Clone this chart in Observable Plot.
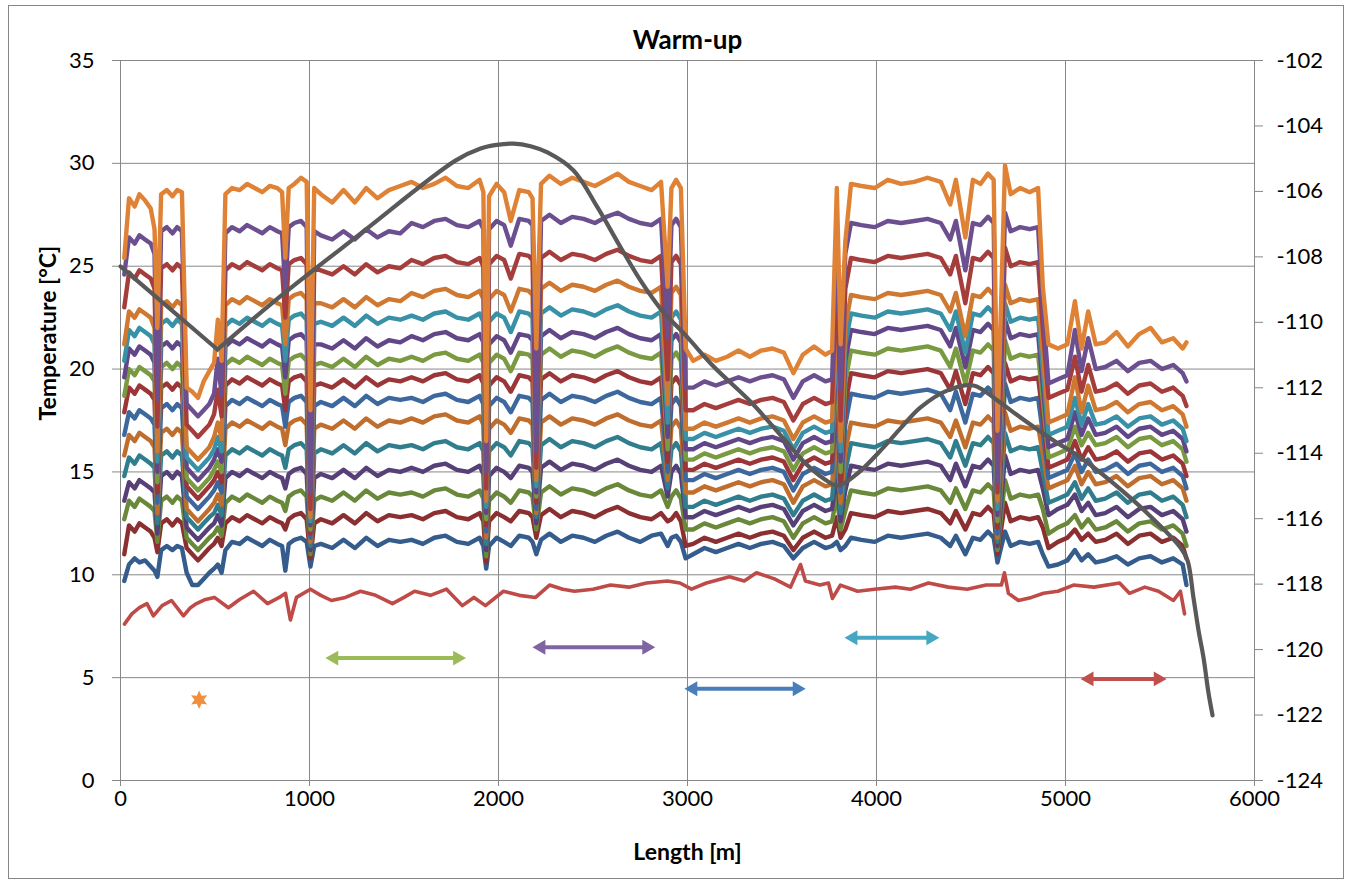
<!DOCTYPE html>
<html><head><meta charset="utf-8">
<script src="https://cdn.jsdelivr.net/npm/d3@7"></script>
<script src="https://cdn.jsdelivr.net/npm/@observablehq/plot@0.6"></script>
<style>body{margin:0;background:#fff;overflow:hidden}</style>
</head><body><div id="chart"></div>
<script>
// ---- data ----
const lengthM = [20,45,75,100,130,160,180,195,215,245,275,300,325,350,380,410,440,470,495,515,535,555,590,630,670,710,750,790,830,855,872,890,920,955,985,1005,1025,1060,1120,1180,1240,1300,1360,1420,1480,1540,1600,1660,1720,1780,1840,1900,1920,1935,1950,1990,2030,2065,2110,2160,2180,2200,2225,2270,2330,2390,2450,2510,2570,2630,2690,2750,2810,2860,2895,2915,2940,2965,2990,3030,3090,3150,3210,3270,3330,3390,3450,3510,3560,3610,3670,3730,3765,3790,3810,3835,3865,3920,3990,4060,4130,4200,4270,4340,4390,4420,4470,4510,4550,4590,4620,4640,4680,4710,4760,4810,4855,4880,4910,4960,5010,5050,5085,5120,5160,5210,5270,5330,5390,5450,5510,5570,5620,5640];

const s00 = [25.4,28.3,27.9,28.5,28.2,27.8,26.8,22.0,28.5,28.7, 28.4,28.7,28.6,19.1,18.9,18.6,19.4,19.9,20.3,22.4, 20.4,28.5,28.8,28.7,29.0,28.8,28.6,28.9,28.8,28.6, 25.4,28.8,29.0,29.3,29.1,18.0,28.8,28.5,28.1,28.7, 28.1,28.8,28.3,28.7,28.9,29.1,28.8,29.0,29.3,28.9, 28.8,29.2,28.6,16.5,28.4,29.0,28.6,27.2,28.7,28.6, 28.3,21.0,29.0,29.4,29.0,29.3,29.1,28.9,29.2,29.5, 29.1,28.9,28.7,29.1,24.0,28.8,29.2,28.8,21.0,20.4, 20.7,20.4,20.6,20.9,20.6,20.9,21.0,20.8,19.8,20.7, 21.1,20.7,20.9,28.8,21.2,26.2,29.0,28.9,28.8,29.2, 29.0,29.1,29.3,29.1,28.0,29.2,26.4,29.2,29.0,29.5, 29.2,17.0,29.9,28.5,28.8,28.6,28.8,24.0,21.2,21.0, 21.2,23.3,21.0,22.8,21.2,21.3,21.8,21.1,21.7,22.0, 21.3,21.5,21.0,21.3];
const s01 = [24.6,26.4,26.1,26.5,26.3,26.1,25.6,18.5,26.7,26.9, 26.6,26.9,26.7,18.3,18.0,17.7,18.0,18.3,18.8,20.5, 18.7,26.6,26.9,26.7,27.0,26.8,26.6,26.9,26.7,26.6, 23.8,26.9,27.1,27.2,26.9,14.0,26.7,26.5,26.3,26.7, 26.3,26.8,26.4,26.7,26.6,27.1,26.9,27.2,27.3,27.0, 26.9,27.2,26.8,15.0,26.8,27.2,27.0,26.0,27.3,27.2, 27.0,16.0,27.2,27.5,27.1,27.4,27.3,27.1,27.4,27.6, 27.3,27.1,27.0,27.3,21.5,27.0,27.3,26.9,19.1,19.1, 19.4,19.2,19.4,19.6,19.4,19.6,19.7,19.5,18.6,19.4, 19.7,19.4,19.5,26.9,19.0,25.6,27.1,27.0,26.9,27.2, 27.1,27.2,27.3,27.1,26.3,27.2,24.8,27.1,27.0,27.4, 27.1,14.5,27.6,26.7,26.9,26.8,26.9,23.0,19.3,19.5, 19.7,21.9,19.9,21.5,20.0,20.1,20.4,19.9,20.3,20.4, 20.0,20.2,19.8,19.4];
const s02 = [23.0,24.7,24.4,24.8,24.6,24.4,23.9,17.2,24.9,25.1, 24.8,25.1,24.9,17.3,17.0,16.7,17.0,17.3,17.8,19.0, 17.7,24.8,25.1,24.9,25.2,25.0,24.8,25.1,24.9,24.8, 22.5,25.1,25.3,25.4,25.1,13.2,24.9,24.8,24.6,25.0, 24.6,25.1,24.7,25.0,24.9,25.3,25.1,25.4,25.5,25.2, 25.1,25.4,25.0,14.2,25.1,25.5,25.3,24.4,25.6,25.5, 25.3,15.2,25.4,25.7,25.3,25.6,25.5,25.3,25.6,25.8, 25.5,25.3,25.2,25.5,19.5,25.2,25.5,25.1,18.0,18.0, 18.3,18.1,18.3,18.5,18.3,18.5,18.6,18.4,17.5,18.3, 18.6,18.3,18.4,25.2,17.5,23.9,25.4,25.3,25.2,25.5, 25.4,25.5,25.6,25.4,24.6,25.5,23.2,25.4,25.3,25.7, 25.4,14.0,25.9,25.0,25.2,25.1,25.2,22.0,18.6,18.8, 19.0,20.6,18.9,20.2,18.9,19.0,19.3,18.8,19.2,19.3, 18.9,19.1,18.7,18.2];
const s03 = [21.2,22.8,22.5,22.9,22.7,22.5,22.0,16.0,23.1,23.3, 23.0,23.3,23.1,16.2,15.9,15.6,15.9,16.2,16.7,17.4, 16.6,23.1,23.4,23.2,23.5,23.3,23.1,23.4,23.2,23.1, 21.2,23.4,23.6,23.7,23.4,12.8,23.2,23.2,23.0,23.4, 23.0,23.5,23.1,23.4,23.3,23.7,23.5,23.8,23.9,23.6, 23.5,23.8,23.4,13.6,23.4,23.8,23.6,22.8,23.9,23.8, 23.6,14.6,23.9,24.2,23.8,24.1,24.0,23.8,24.1,24.3, 24.0,23.8,23.7,24.0,18.3,23.7,24.0,23.6,17.1,17.1, 17.4,17.2,17.4,17.6,17.4,17.6,17.7,17.5,16.6,17.4, 17.7,17.4,17.5,23.4,16.5,22.1,23.6,23.5,23.4,23.7, 23.6,23.7,23.8,23.6,22.8,23.7,21.6,23.6,23.5,23.9, 23.6,13.6,24.1,23.2,23.4,23.3,23.4,20.8,17.4,17.6, 17.8,19.6,17.9,19.2,18.0,18.1,18.4,17.9,18.3,18.4, 18.0,18.2,17.8,17.2];
const s04 = [20.4,21.9,21.6,22.0,21.8,21.6,21.2,15.5,22.2,22.4, 22.1,22.4,22.2,15.7,15.4,15.1,15.4,15.7,16.1,16.7, 16.0,22.1,22.4,22.2,22.5,22.3,22.1,22.4,22.2,22.1, 20.4,22.4,22.6,22.7,22.4,12.6,22.2,22.3,22.1,22.5, 22.1,22.6,22.2,22.5,22.4,22.6,22.4,22.7,22.8,22.5, 22.4,22.7,22.3,13.3,22.3,22.7,22.5,21.8,22.8,22.7, 22.5,14.3,22.7,23.0,22.6,22.9,22.8,22.6,22.9,23.1, 22.8,22.6,22.5,22.8,17.4,22.5,22.8,22.4,16.6,16.6, 16.9,16.7,16.9,17.1,16.9,17.1,17.2,17.0,16.1,16.9, 17.2,16.9,17.0,22.5,16.0,21.2,22.7,22.6,22.5,22.8, 22.7,22.8,22.9,22.7,21.9,22.8,20.8,22.7,22.6,23.0, 22.7,13.2,23.2,22.3,22.5,22.4,22.5,20.0,16.8,17.0, 17.2,18.6,17.3,18.3,17.3,17.4,17.7,17.2,17.6,17.7, 17.3,17.5,17.1,16.5];
const s05 = [19.6,21.0,20.7,21.1,20.9,20.7,20.3,15.0,21.1,21.3, 21.0,21.3,21.1,15.2,14.9,14.6,14.9,15.2,15.6,16.1, 15.5,21.1,21.4,21.2,21.5,21.3,21.1,21.4,21.2,21.1, 19.6,21.4,21.6,21.7,21.4,12.4,21.2,21.2,21.0,21.4, 21.0,21.5,21.1,21.4,21.3,21.6,21.4,21.7,21.8,21.5, 21.4,21.7,21.3,13.0,21.2,21.6,21.4,20.8,21.7,21.6, 21.4,14.0,21.6,21.9,21.5,21.8,21.7,21.5,21.8,22.0, 21.7,21.5,21.4,21.7,16.7,21.4,21.7,21.3,16.1,16.1, 16.4,16.2,16.4,16.6,16.4,16.6,16.7,16.5,15.6,16.4, 16.7,16.4,16.5,21.7,15.5,20.4,21.9,21.8,21.7,22.0, 21.9,22.0,22.1,21.9,21.1,22.0,20.1,21.9,21.8,22.2, 21.9,12.9,22.4,21.5,21.7,21.6,21.7,19.2,16.2,16.4, 16.6,17.9,16.8,17.6,16.8,16.9,17.2,16.7,17.1,17.2, 16.8,17.0,16.6,16.0];
const s06 = [18.7,20.0,19.7,20.1,19.9,19.7,19.4,14.5,20.1,20.3, 20.0,20.3,20.1,14.7,14.4,14.1,14.4,14.7,15.1,15.5, 15.0,20.2,20.5,20.3,20.6,20.4,20.2,20.5,20.3,20.2, 18.8,20.4,20.6,20.7,20.4,12.2,20.2,20.3,20.1,20.5, 20.1,20.6,20.2,20.5,20.4,20.6,20.4,20.7,20.8,20.5, 20.4,20.7,20.3,12.7,20.3,20.7,20.5,19.9,20.8,20.7, 20.5,13.8,20.7,21.0,20.6,20.9,20.8,20.6,20.9,21.1, 20.8,20.6,20.5,20.8,16.1,20.5,20.8,20.4,15.6,15.6, 15.9,15.7,15.9,16.1,15.9,16.1,16.2,16.0,15.1,15.9, 16.2,15.9,16.0,20.7,15.0,19.4,20.9,20.8,20.7,21.0, 20.9,21.0,21.1,20.9,20.1,21.0,19.3,20.9,20.8,21.2, 20.9,12.6,21.4,20.5,20.7,20.6,20.7,18.5,15.7,15.9, 16.1,17.2,16.3,16.9,16.3,16.4,16.7,16.2,16.6,16.7, 16.3,16.5,16.1,15.5];
const s07 = [17.9,19.1,18.8,19.2,19.0,18.8,18.5,14.0,19.1,19.3, 19.0,19.3,19.1,14.3,14.0,13.7,14.0,14.3,14.6,15.0, 14.5,19.2,19.5,19.3,19.6,19.4,19.2,19.5,19.3,19.2, 18.0,19.4,19.6,19.7,19.4,12.0,19.2,19.3,19.1,19.5, 19.1,19.6,19.2,19.5,19.4,19.6,19.4,19.7,19.8,19.5, 19.4,19.7,19.3,12.4,19.2,19.6,19.4,18.9,19.7,19.6, 19.4,13.5,19.5,19.8,19.4,19.7,19.6,19.4,19.7,19.9, 19.6,19.4,19.3,19.6,15.5,19.3,19.6,19.2,15.1,15.1, 15.4,15.2,15.4,15.6,15.4,15.6,15.7,15.5,14.6,15.4, 15.7,15.4,15.5,19.6,14.5,18.3,19.8,19.7,19.6,19.9, 19.8,19.9,20.0,19.8,19.0,19.9,18.3,19.8,19.7,20.1, 19.8,12.3,20.3,19.4,19.6,19.5,19.6,17.7,15.2,15.4, 15.6,16.5,15.6,16.2,15.6,15.7,16.0,15.5,15.9,16.0, 15.6,15.8,15.4,14.8];
const s08 = [16.8,17.9,17.6,18.0,17.8,17.6,17.3,13.5,18.1,18.3, 18.0,18.3,18.1,13.8,13.5,13.2,13.5,13.8,14.1,14.5, 14.0,18.2,18.5,18.3,18.6,18.4,18.2,18.5,18.3,18.2, 17.2,18.4,18.6,18.7,18.4,11.8,18.2,18.4,18.2,18.6, 18.2,18.7,18.3,18.6,18.5,18.6,18.4,18.7,18.8,18.5, 18.4,18.7,18.3,12.1,18.2,18.6,18.4,17.9,18.7,18.6, 18.4,13.2,18.5,18.8,18.4,18.7,18.6,18.4,18.7,18.9, 18.6,18.4,18.3,18.6,15.0,18.3,18.6,18.2,14.6,14.6, 14.9,14.7,14.9,15.1,14.9,15.1,15.2,15.0,14.1,14.9, 15.2,14.9,15.0,18.6,14.0,17.3,18.8,18.7,18.6,18.9, 18.8,18.9,19.0,18.8,18.0,18.9,17.4,18.8,18.7,19.1, 18.8,12.0,19.3,18.4,18.6,18.5,18.6,16.9,14.7,14.9, 15.1,15.9,15.0,15.6,15.0,15.1,15.4,14.9,15.3,15.4, 15.0,15.2,14.8,14.2];
const s09 = [15.8,16.8,16.5,16.9,16.7,16.5,16.2,13.0,16.9,17.1, 16.8,17.1,16.9,13.2,12.9,12.6,12.9,13.2,13.5,13.9, 13.4,17.1,17.4,17.2,17.5,17.3,17.1,17.4,17.2,17.1, 16.3,17.3,17.5,17.6,17.3,11.6,17.1,17.3,17.1,17.5, 17.1,17.6,17.2,17.5,17.4,17.6,17.4,17.7,17.8,17.5, 17.4,17.7,17.3,11.8,17.1,17.5,17.3,16.9,17.6,17.5, 17.3,13.0,17.4,17.7,17.3,17.6,17.5,17.3,17.6,17.8, 17.5,17.3,17.2,17.5,14.6,17.2,17.5,17.1,14.0,14.0, 14.3,14.1,14.3,14.5,14.3,14.5,14.6,14.4,13.5,14.3, 14.6,14.3,14.4,17.2,13.5,16.0,17.4,17.3,17.2,17.5, 17.4,17.5,17.6,17.4,16.7,17.5,16.2,17.4,17.3,17.7, 17.4,11.8,17.9,17.0,17.2,17.1,17.2,15.9,14.2,14.4, 14.6,15.3,14.4,15.0,14.4,14.5,14.8,14.3,14.7,14.8, 14.4,14.6,14.2,13.6];
const s10 = [14.8,15.7,15.4,15.8,15.6,15.4,15.2,12.5,15.8,16.0, 15.7,16.0,15.8,12.8,12.5,12.2,12.5,12.8,13.0,13.4, 12.9,15.8,16.1,15.9,16.2,16.0,15.8,16.1,15.9,15.8, 15.2,16.1,16.3,16.4,16.1,11.4,15.9,16.1,15.9,16.3, 15.9,16.4,16.0,16.3,16.2,16.3,16.1,16.4,16.5,16.2, 16.1,16.4,16.0,11.5,16.0,16.4,16.2,15.8,16.5,16.4, 16.2,12.8,16.3,16.6,16.2,16.5,16.4,16.2,16.5,16.7, 16.4,16.2,16.1,16.4,14.2,16.1,16.4,16.0,13.3,13.3, 13.6,13.4,13.6,13.8,13.6,13.8,13.9,13.7,12.9,13.6, 13.9,13.6,13.7,16.2,13.0,15.0,16.4,16.3,16.2,16.5, 16.4,16.5,16.6,16.4,15.7,16.5,15.3,16.4,16.3,16.7, 16.4,11.6,16.9,16.0,16.2,16.1,16.2,15.0,13.5,13.7, 13.9,14.5,13.7,14.2,13.6,13.7,14.0,13.5,13.9,14.0, 13.6,13.8,13.4,12.8];
const s11 = [13.6,14.5,14.2,14.6,14.4,14.2,14.0,12.0,14.8,15.0, 14.7,15.0,14.8,12.3,12.0,11.7,12.0,12.3,12.5,12.9, 12.4,14.7,15.0,14.8,15.1,14.9,14.7,15.0,14.8,14.7, 14.2,14.9,15.1,15.2,14.9,11.2,14.7,14.9,14.7,15.1, 14.7,15.2,14.8,15.1,15.0,15.2,15.0,15.3,15.4,15.1, 15.0,15.3,14.9,11.2,14.8,15.2,15.0,14.7,15.3,15.2, 15.0,12.5,15.2,15.5,15.1,15.4,15.3,15.1,15.4,15.6, 15.3,15.1,15.0,15.3,13.8,15.0,15.3,14.9,12.8,12.8, 13.1,12.9,13.1,13.3,13.1,13.3,13.4,13.2,12.4,13.1, 13.4,13.1,13.2,15.1,12.6,14.1,15.3,15.2,15.1,15.4, 15.3,15.4,15.5,15.3,14.6,15.4,14.3,15.3,15.2,15.6, 15.3,11.4,15.8,14.9,15.1,15.0,15.1,14.2,12.9,13.2, 13.4,13.9,13.1,13.5,12.9,13.0,13.3,12.8,13.2,13.3, 12.9,13.1,12.7,12.1];
const s12 = [12.7,13.6,13.3,13.7,13.5,13.3,13.1,11.6,13.6,13.8, 13.5,13.8,13.6,11.8,11.5,11.2,11.5,11.8,12.0,12.3, 11.9,13.5,13.8,13.6,13.9,13.7,13.5,13.8,13.6,13.5, 13.1,13.8,14.0,14.1,13.8,11.0,13.6,13.8,13.6,14.0, 13.6,14.1,13.7,14.0,13.9,14.0,13.8,14.1,14.2,13.9, 13.8,14.1,13.7,10.9,13.6,14.0,13.8,13.5,14.1,14.0, 13.8,12.2,14.0,14.3,13.9,14.2,14.1,13.9,14.2,14.4, 14.1,13.9,13.8,14.1,13.3,13.8,14.1,13.7,12.2,12.2, 12.5,12.3,12.5,12.7,12.5,12.7,12.8,12.6,11.8,12.5, 12.8,12.5,12.6,13.9,12.2,13.1,14.1,14.0,13.9,14.2, 14.1,14.2,14.3,14.1,13.5,14.2,13.2,14.1,14.0,14.4, 14.1,11.2,14.6,13.7,13.9,13.8,13.9,13.2,12.0,12.3, 12.5,12.9,12.3,12.7,12.2,12.3,12.6,12.1,12.5,12.6, 12.2,12.4,12.0,11.4];
const s13 = [11.0,12.4,12.1,12.5,12.3,12.1,11.8,11.1,12.5,12.7, 12.4,12.7,12.5,11.3,11.0,10.7,11.0,11.3,11.5,11.8, 11.4,12.5,12.8,12.6,12.9,12.7,12.5,12.8,12.6,12.5, 12.2,12.7,12.9,13.0,12.7,10.8,12.5,12.7,12.5,12.9, 12.5,13.0,12.6,12.9,12.8,12.9,12.7,13.0,13.1,12.8, 12.7,13.0,12.6,10.6,12.6,13.0,12.8,12.6,13.1,13.0, 12.8,11.8,12.9,13.2,12.8,13.1,13.0,12.8,13.1,13.3, 13.0,12.8,12.7,13.0,12.6,12.7,13.0,12.6,11.4,11.5, 11.8,11.6,11.8,12.0,11.8,12.0,12.1,11.9,11.2,11.8, 12.1,11.8,11.9,12.8,11.8,12.2,13.0,12.9,12.8,13.1, 13.0,13.1,13.2,13.0,12.5,13.1,12.2,13.0,12.9,13.3, 13.0,11.0,13.5,12.6,12.8,12.7,12.8,12.3,11.3,11.6, 11.8,12.2,11.7,12.0,11.6,11.7,12.0,11.5,11.9,12.0, 11.6,11.8,11.4,10.8];
const s14 = [9.7,10.5,10.8,10.6,10.7,10.4,10.2,9.9,11.2,11.4, 11.2,11.4,11.3,10.1,9.5,9.5,9.8,10.1,10.3,10.5, 10.1,11.2,11.6,11.5,11.8,11.6,11.4,11.7,11.5,11.4, 10.2,11.5,11.7,11.8,11.6,10.4,11.4,11.5,11.3,11.7, 11.3,11.8,11.4,11.7,11.6,11.7,11.5,11.8,11.9,11.6, 11.5,11.8,11.4,10.3,11.4,11.8,11.6,11.4,11.9,11.8, 11.6,11.0,11.7,12.0,11.6,11.9,11.8,11.6,11.9,12.1, 11.8,11.6,11.9,12.0,11.4,11.8,11.9,11.6,10.8,11.0, 11.3,11.1,11.3,11.5,11.3,11.5,11.6,11.4,10.8,11.3, 11.6,11.3,11.4,11.6,11.2,11.4,11.8,11.7,11.6,11.9, 11.8,11.9,12.0,11.8,11.4,11.9,11.0,11.8,11.7,12.1, 11.8,10.6,12.1,11.4,11.6,11.5,11.6,11.0,10.4,10.5, 10.7,11.2,10.7,11.0,10.6,10.7,10.9,10.5,10.8,10.9, 10.6,10.8,10.5,9.5];

const seriesColors = ["#DF8236","#6C4F8F","#A53D3D","#CF7832","#3891A7","#614788","#799A40","#9B3538","#3D689D","#C06E2D","#307D8D","#564077","#6A883A","#8B2F31","#345C8C"];

const flatLenM = [21,60,100,140,174,220,270,333,370,402,450,497,571,630,704,778,840,873,899,931,1005,1060,1116,1190,1270,1350,1439,1500,1556,1640,1725,1809,1870,1931,2026,2110,2196,2270,2340,2402,2500,2593,2690,2783,2894,2960,3021,3100,3222,3300,3365,3460,3545,3598,3624,3700,3746,3767,3809,3900,3989,4100,4180,4275,4380,4480,4580,4661,4677,4698,4751,4820,4884,4960,5042,5150,5286,5338,5420,5492,5571,5608,5630];
const flatT = [7.6,8.1,8.4,8.6,8.0,8.5,8.75,8.0,8.4,8.6,8.8,8.9,8.4,8.8,9.2,8.6,8.9,9.1,7.8,8.9,9.3,9.0,8.75,8.9,9.2,9.0,8.6,8.9,9.2,9.0,9.3,8.5,8.9,8.5,9.2,9.0,8.9,9.5,9.3,9.2,9.3,9.5,9.4,9.6,9.7,9.6,9.3,9.6,9.9,9.7,10.1,9.8,9.4,10.5,9.7,9.5,9.6,8.85,9.5,9.2,9.3,9.4,9.3,9.6,9.4,9.3,9.5,9.5,10.1,9.1,8.75,8.9,9.1,9.2,9.5,9.4,9.6,9.1,9.4,9.2,8.75,9.2,8.1];
const flatColor = "#BE4B48";

const curveLenM = [0,513,847,1270,1772,1905,1990,2079,2170,2259,2397,2524,2646,2751,2857,3000,3138,3333,3508,3614,3720,3794,3899,4037,4127,4233,4376,4513,4640,4762,4937,5079,5254,5434,5608,5646,5677,5704,5730,5757,5778];
const curveRight = [-108.29,-110.83,-109.2,-107.29,-105.06,-104.69,-104.58,-104.54,-104.62,-104.81,-105.36,-106.49,-107.71,-108.72,-109.58,-110.46,-111.35,-112.42,-113.55,-114.25,-114.77,-114.99,-114.62,-113.82,-113.24,-112.60,-112.08,-111.93,-112.39,-112.91,-113.61,-114.13,-114.92,-115.84,-116.88,-117.28,-118.41,-119.42,-120.24,-121.34,-122.01];
const curveColor = "#595959";

const arrowStart = [1109, 2205, 3009, 3856, 5105];
const arrowEnd   = [1803, 2804, 3600, 4307, 5510];
const arrowT     = [5.95, 6.48, 4.46, 6.94, 4.94];
const arrowColors = ["#9BBB59","#8064A2","#4A7EBB","#45A7C2","#C0504D"];

const starLenM = [416];
const starT = [3.92];
const starColor = "#F0903E";

const xTicks = [0,1000,2000,3000,4000,5000,6000];
const yTicks = [0,5,10,15,20,25,30,35];
const rightTicks = [-124,-122,-120,-118,-116,-114,-112,-110,-108,-106,-104,-102];

// ---- mapping of the right (secondary) axis onto the primary y scale ----
const yMin = 0, yMax = 35, rMin = -124, rMax = -102;
const toLeft = v => (v - rMin) * (yMax - yMin) / (rMax - rMin) + yMin;
const toRight = t => (t - yMin) * (rMax - rMin) / (yMax - yMin) + rMin;

const seriesList = [s00,s01,s02,s03,s04,s05,s06,s07,s08,s09,s10,s11,s12,s13,s14];

// custom symbols
const headRight = {draw(ctx, size){const s=Math.sqrt(size); ctx.moveTo(0.5*s,0); ctx.lineTo(-0.85*s,-0.78*s); ctx.lineTo(-0.85*s,0.78*s); ctx.closePath();}};
const headLeft  = {draw(ctx, size){const s=Math.sqrt(size); ctx.moveTo(-0.5*s,0); ctx.lineTo(0.85*s,-0.78*s); ctx.lineTo(0.85*s,0.78*s); ctx.closePath();}};
const star6 = {draw(ctx, size){const R=Math.sqrt(size)*0.95, r=R*0.5; for(let j=0;j<12;j++){const a=Math.PI/6*j-Math.PI/2; const q=j%2?r:R; const px=q*Math.cos(a), py=q*Math.sin(a); if(j) ctx.lineTo(px,py); else ctx.moveTo(px,py);} ctx.closePath();}};

const marks = [];
marks.push(Plot.gridX(xTicks, {stroke:"#888888", strokeOpacity:1, strokeWidth:1}));
marks.push(Plot.gridY(yTicks, {stroke:"#888888", strokeOpacity:1, strokeWidth:1}));
marks.push(Plot.axisX(xTicks, {tickSize:6, tickPadding:4, tickFormat:d=>`${d}`, label:null, fontSize:22, stroke:"#888888", fill:"#000"}));
marks.push(Plot.axisY(yTicks, {anchor:"left", tickSize:8, tickPadding:18, tickFormat:d=>`${d}`, label:null, fontSize:22, stroke:"#888888", fill:"#000"}));
marks.push(Plot.axisY(rightTicks.map(toLeft), {anchor:"right", tickSize:8, tickPadding:14, tickFormat:d=>`${Math.round(toRight(d))}`, label:null, fontSize:22, stroke:"#888888", fill:"#000"}));

// temperature profiles, bottom series first
for (let k = seriesList.length - 1; k >= 0; k--) {
  const vals = seriesList[k];
  const rows = lengthM.map((x, i) => ({x, t: vals[i]}));
  marks.push(Plot.line(rows, {x:"x", y:"t", stroke: seriesColors[k], strokeWidth:4.4, strokeLinejoin:"round"}));
}
marks.push(Plot.line(flatLenM.map((x,i)=>({x, t: flatT[i]})), {x:"x", y:"t", stroke: flatColor, strokeWidth:3.6, strokeLinejoin:"round"}));
// secondary-axis curve: straight first leg to the sharp minimum, then smoothed
const curveRows = curveLenM.map((x,i)=>({x, t: toLeft(curveRight[i])}));
marks.push(Plot.line(curveRows.slice(0, 2), {x:"x", y:"t", stroke: curveColor, strokeWidth:4.2, strokeLinecap:"round"}));
marks.push(Plot.line(curveRows.slice(1), {x:"x", y:"t", stroke: curveColor, strokeWidth:4.2, curve:"catmull-rom", strokeLinejoin:"round", strokeLinecap:"round"}));

// arrows
const arrowIdx = arrowStart.map((_, i) => i);
marks.push(Plot.link(arrowIdx, {x1:i=>arrowStart[i], x2:i=>arrowEnd[i], y1:i=>arrowT[i], y2:i=>arrowT[i], stroke:i=>arrowColors[i], strokeWidth:4}));
marks.push(Plot.dot(arrowIdx, {x:i=>arrowEnd[i], y:i=>arrowT[i], fill:i=>arrowColors[i], symbol: headRight, r:5.4}));
marks.push(Plot.dot(arrowIdx, {x:i=>arrowStart[i], y:i=>arrowT[i], fill:i=>arrowColors[i], symbol: headLeft, r:5.4}));
marks.push(Plot.dot(starLenM.map((x,i)=>({x, t: starT[i]})), {x:"x", y:"t", fill: starColor, symbol: star6, r:5.5}));

// titles
marks.push(Plot.text(["Warm-up"], {frameAnchor:"top", lineAnchor:"middle", dy:-20, text:d=>d, fontWeight:"bold", fontSize:26, fill:"#000"}));
marks.push(Plot.text(["Temperature [°C]"], {frameAnchor:"left", dx:-72, rotate:-90, text:d=>d, fontWeight:"bold", fontSize:23, fill:"#000"}));
marks.push(Plot.text(["Length [m]"], {frameAnchor:"bottom", lineAnchor:"middle", dy:72, text:d=>d, fontWeight:"bold", fontSize:23, fill:"#000"}));

const svg = Plot.plot({
  width: 1351, height: 883,
  marginLeft: 120, marginRight: 97, marginTop: 60, marginBottom: 103,
  x: {domain:[0,6000], axis:null},
  y: {domain:[yMin,yMax], axis:null},
  color: {type:"identity"},
  style: {fontFamily:"Lato, 'Open Sans', sans-serif", fontSize:"22px", background:"#fff", color:"#000", overflow:"visible"},
  marks
});
d3.select(svg).append("rect")
  .attr("x", 8.5).attr("y", 5.5).attr("width", 1335).attr("height", 873)
  .attr("fill", "none").attr("stroke", "#868686").attr("stroke-width", 1);
document.getElementById("chart").appendChild(svg);
</script>
</body></html>
